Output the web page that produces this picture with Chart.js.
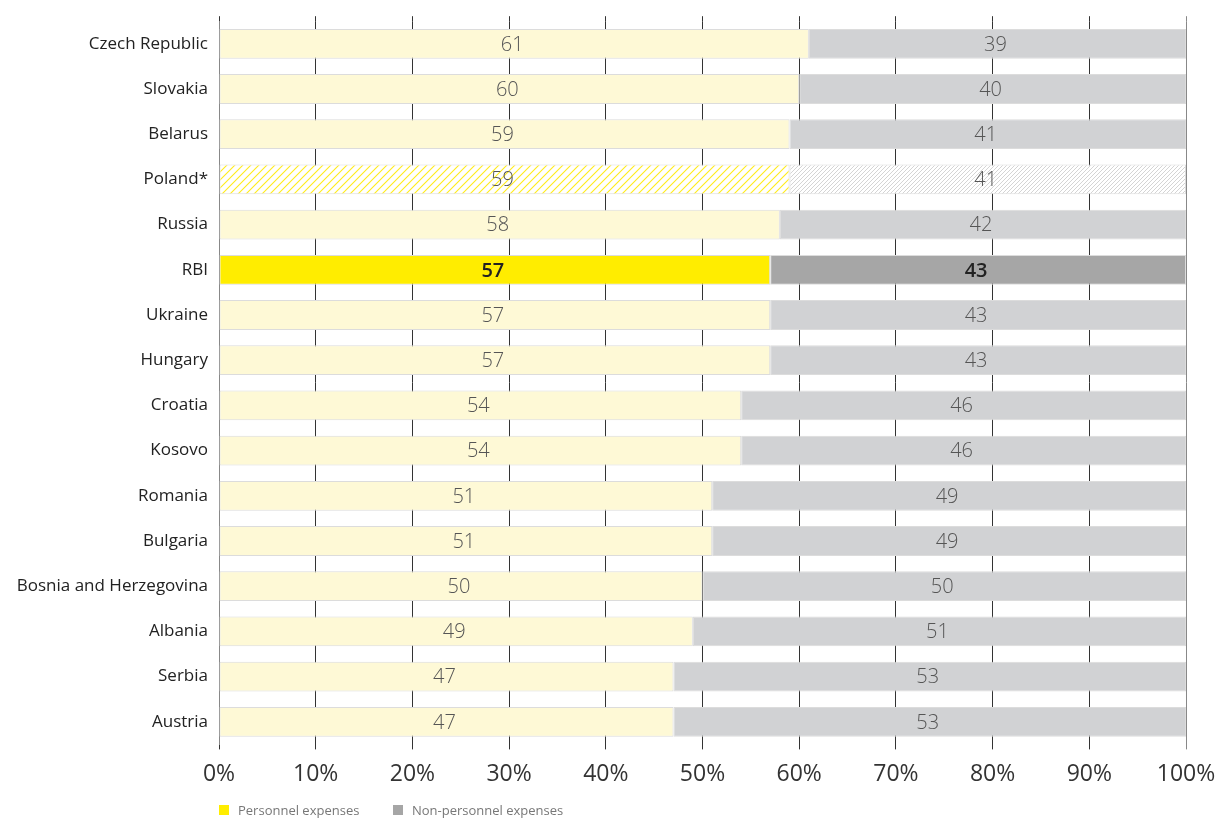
<!DOCTYPE html>
<html>
<head>
<meta charset="utf-8">
<script src="https://cdn.jsdelivr.net/npm/chart.js@4.4.1/dist/chart.umd.min.js"></script>
<style>
  body { margin: 0; background: #fff; }
  .wrap { position: relative; width: 1221px; height: 818px; }
  .legend { position: absolute; left: 219px; top: 802px; line-height: 16px; font-family: "Open Sans", Lato, sans-serif; font-size: 13px; color: #777; display: flex; white-space: nowrap; }
  .legend span.item { display: inline-flex; align-items: center; }
  .legend i { display: inline-block; width: 10px; height: 10px; margin-right: 9px; }
</style>
</head>
<body>
<div class="wrap">
  <canvas id="costChart" width="1221" height="818"></canvas>
  <div class="legend">
    <span class="item" style="width:174px"><i style="background:#ffed00"></i>Personnel expenses</span>
    <span class="item"><i style="background:#a6a6a6"></i>Non-personnel expenses</span>
  </div>
</div>
<script>
const countries = ["Czech Republic", "Slovakia", "Belarus", "Poland*", "Russia", "RBI", "Ukraine", "Hungary",
  "Croatia", "Kosovo", "Romania", "Bulgaria", "Bosnia and Herzegovina", "Albania", "Serbia", "Austria"];
const personnel = [61, 60, 59, 59, 58, 57, 57, 57, 54, 54, 51, 51, 50, 49, 47, 47];
const nonPersonnel = [39, 40, 41, 41, 42, 43, 43, 43, 46, 46, 49, 49, 50, 51, 53, 53];
const percentTicks = [0, 10, 20, 30, 40, 50, 60, 70, 80, 90, 100];

// diagonal hatch for Poland
function hatch(color, step, width) {
  const c = document.createElement('canvas');
  c.width = step; c.height = step;
  const g = c.getContext('2d');
  g.fillStyle = '#fff';
  g.fillRect(0, 0, step, step);
  g.strokeStyle = color;
  g.lineWidth = width;
  g.beginPath();
  g.moveTo(-1, step + 1); g.lineTo(step + 1, -1);
  g.moveTo(-1, 1); g.lineTo(1, -1);
  g.moveTo(step - 1, step + 1); g.lineTo(step + 1, step - 1);
  g.stroke();
  return g.createPattern(c, 'repeat');
}

const yellowColors = countries.map(c => c === 'RBI' ? '#ffed00' : c === 'Poland*' ? hatch('#ffeb1a', 8, 1.1) : '#fef9d6');
const greyColors = countries.map(c => c === 'RBI' ? '#a6a6a6' : c === 'Poland*' ? hatch('#d4d4d4', 4, 1) : '#d1d2d4');

const fontFamily = '"Open Sans", Lato, sans-serif';

const valueLabels = {
  id: 'valueLabels',
  afterDatasetsDraw(chart) {
    const ctx = chart.ctx;
    ctx.save();
    ctx.textAlign = 'center';
    ctx.textBaseline = 'middle';
    chart.data.datasets.forEach((ds, di) => {
      const meta = chart.getDatasetMeta(di);
      meta.data.forEach((bar, i) => {
        const isRbi = countries[i] === 'RBI';
        ctx.font = (isRbi ? '600 ' : '300 ') + '20px ' + fontFamily;
        ctx.fillStyle = isRbi ? '#222' : '#555';
        ctx.fillText(ds.data[i], (bar.x + bar.base) / 2 - 2, bar.y + 1);
      });
    });
    ctx.restore();
  }
};

const gridColor = (ctx) => ctx.tick && ctx.tick.value === 100 ? '#888' : '#333';

new Chart(document.getElementById('costChart'), {
  type: 'bar',
  data: {
    labels: countries,
    datasets: [
      {
        label: 'Personnel expenses',
        data: personnel,
        backgroundColor: yellowColors,
        borderColor: '#dcdcdc',
        borderWidth: 1,
        borderSkipped: false,
        barPercentage: 0.66,
        categoryPercentage: 1,
      },
      {
        label: 'Non-personnel expenses',
        data: nonPersonnel,
        backgroundColor: greyColors,
        borderColor: '#dcdcdc',
        borderWidth: 1,
        borderSkipped: false,
        barPercentage: 0.66,
        categoryPercentage: 1,
      },
    ],
  },
  options: {
    indexAxis: 'y',
    responsive: false,
    animation: false,
    layout: { padding: { top: 14, right: 35, bottom: 19, left: 0 } },
    plugins: {
      legend: { display: false },
      tooltip: { enabled: false },
    },
    scales: {
      x: {
        stacked: true,
        min: 0,
        max: 100,
        afterBuildTicks: (scale) => { scale.ticks = percentTicks.map(v => ({ value: v })); },
        afterFit: (scale) => { scale.paddingRight = 0; scale.paddingLeft = 0; },
        grid: { color: gridColor, lineWidth: 1, tickLength: 5, tickColor: gridColor },
        border: { display: false },
        ticks: {
          padding: 11,
          color: '#333',
          font: { family: fontFamily, size: 23, weight: 500 },
          callback: (v) => v + '%',
        },
      },
      x2: {
        position: 'top',
        min: 0,
        max: 100,
        afterBuildTicks: (scale) => { scale.ticks = percentTicks.map(v => ({ value: v })); },
        afterFit: (scale) => { scale.paddingRight = 0; scale.paddingLeft = 0; },
        grid: { drawOnChartArea: false, tickLength: 5, tickColor: gridColor },
        border: { display: false },
        ticks: { display: false },
      },
      y: {
        stacked: true,
        grid: { display: false, drawTicks: false },
        border: { display: true, color: '#888', width: 1 },
        afterFit: (scale) => { scale.width = 219; },
        ticks: {
          padding: 11,
          color: '#222',
          font: { family: fontFamily, size: 17, weight: 500 },
        },
      },
    },
  },
  plugins: [valueLabels],
});
</script>
</body>
</html>
